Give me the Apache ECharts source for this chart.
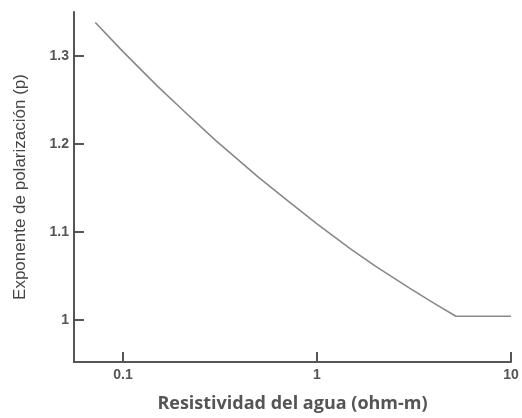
<!DOCTYPE html>
<html>
<head>
<meta charset="utf-8">
<script src="https://cdn.jsdelivr.net/npm/echarts@6/dist/echarts.min.js"></script>
<style>html,body{margin:0;padding:0;background:#fff}#c{width:522px;height:418px}</style>
</head>
<body>
<div id="c"></div>
<script>
var resistivity = [0.072, 0.1, 0.15, 0.2, 0.3, 0.5, 0.7, 1, 1.5, 2, 3, 4, 5.2, 10];
var exponentP = [1.338, 1.305, 1.266, 1.240, 1.204, 1.162, 1.136, 1.109, 1.080, 1.061, 1.036, 1.019, 1.004, 1.004];
var xTicks = [0.1, 1, 10];
var yTicks = [1, 1.1, 1.2, 1.3];
var xTitle = 'Resistividad del agua (ohm-m)';
var yTitle = 'Exponente de polarización (p)';

var chart = echarts.init(document.getElementById('c'), null, {renderer: 'canvas'});
var pts = resistivity.map(function (x, i) { return [x, exponentP[i]]; });
chart.setOption({
  animation: false,
  backgroundColor: '#fff',
  grid: {left: 74, right: 11, top: 12, bottom: 53, containLabel: false},
  xAxis: {
    type: 'log',
    min: 0.0559,
    max: 10,
    name: xTitle,
    nameLocation: 'middle',
    nameGap: 33,
    nameTextStyle: {fontFamily: 'Open Sans', fontWeight: 'bold', fontSize: 18, color: '#555'},
    axisLine: {show: true, lineStyle: {color: '#555', width: 2}},
    axisTick: {show: true, inside: true, length: 10, lineStyle: {color: '#555', width: 2}, customValues: xTicks},
    axisLabel: {show: true, customValues: xTicks, margin: 6, fontFamily: 'Liberation Sans', fontWeight: 'bold', fontSize: 14, color: '#555',
      formatter: function (v) { return String(+v.toPrecision(3)); }},
    splitLine: {show: false},
    minorTick: {show: false}
  },
  yAxis: {
    type: 'value',
    min: 0.952,
    max: 1.35,
    name: yTitle,
    nameLocation: 'middle',
    nameGap: 45,
    nameRotate: 90,
    nameTextStyle: {fontFamily: 'Liberation Sans', fontSize: 17, color: '#444'},
    axisLine: {show: true, lineStyle: {color: '#555', width: 2}},
    axisTick: {show: true, inside: true, length: 10, lineStyle: {color: '#555', width: 2}, customValues: yTicks},
    axisLabel: {show: true, customValues: yTicks, margin: 5, fontFamily: 'Liberation Sans', fontWeight: 'bold', fontSize: 14, color: '#555',
      formatter: function (v) { return String(+v.toFixed(1)); }},
    splitLine: {show: false}
  },
  series: [{
    type: 'line',
    data: pts,
    showSymbol: false,
    smooth: false,
    lineStyle: {color: '#888', width: 1.6},
    silent: true
  }]
});
</script>
</body>
</html>
